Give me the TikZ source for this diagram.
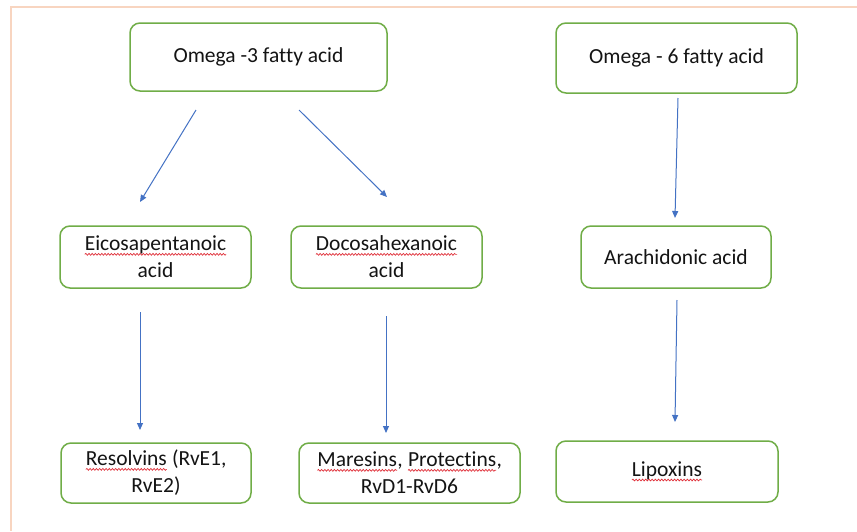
\documentclass[tikz,border=0pt]{standalone}
\usepackage{fontspec}
\setmainfont{Carlito}[Ligatures=NoCommon]
\usetikzlibrary{arrows.meta,decorations.pathmorphing}
\definecolor{boxgreen}{HTML}{70AD47}
\definecolor{arrblue}{HTML}{4472C4}
\definecolor{framecol}{HTML}{F8D5C0}
\definecolor{txtcol}{HTML}{141414}
\definecolor{squig}{HTML}{E0303A}
\newcommand\spellmark[1]{\tikz[baseline=(sw.base)]{\node[shape=rectangle,minimum width=0pt,minimum height=0pt,inner sep=0pt,outer sep=0pt,draw=none,fill=none,rounded corners=0pt,text=txtcol,anchor=center] (sw) at (0,0) {#1};\draw[draw=squig,line width=0.7pt,rounded corners=0pt,decorate,decoration={snake,amplitude=0.9pt,segment length=3.2pt}] ([yshift=-3.5pt]sw.base west) -- ([yshift=-3.5pt]sw.base east);}}
\tikzset{
  box/.style={draw=boxgreen, line width=1.5pt, rounded corners=10pt, fill=white,
    inner sep=0pt, align=center, text=txtcol,
    font=\fontsize{21.5}{27}\selectfont},
  flow/.style={draw=arrblue, line width=1pt, -{Triangle[length=7pt,width=6pt]}},
  framed/.style={draw=framecol, line width=1.5pt}
}
\begin{document}
\begin{tikzpicture}[x=1pt,y=-1pt]
\useasboundingbox (0,0) rectangle (857,531);
\fill[white] (0,0) rectangle (857,531);
% page frame
\coordinate (ftr) at (857,7);
\coordinate (ftl) at (11,7);
\coordinate (fbl) at (11,531);
\draw[framed] (ftr) -- (ftl) -- (fbl);
% boxes
\node[box, minimum width=257pt, minimum height=68pt] (o3) at (258.5,57) {Omega -3 fatty acid};
\node[box, minimum width=241pt, minimum height=70pt] (o6) at (676.5,58) {Omega - 6 fatty acid};
\node[box, minimum width=191pt, minimum height=62pt] (epa) at (155.5,257) {\spellmark{Eicosapentanoic}\\acid};
\node[box, minimum width=191pt, minimum height=62pt] (dha) at (386.5,257) {\spellmark{Docosahexanoic}\\acid};
\node[box, minimum width=190pt, minimum height=62pt] (ara) at (676,257) {Arachidonic acid};
\node[box, minimum width=190pt, minimum height=60pt] (res) at (156,473) {\spellmark{Resolvins} (RvE1,\\RvE2)};
\node[box, minimum width=221pt, minimum height=60pt] (mar) at (409.5,473) {\spellmark{Maresins}, \spellmark{Protectins},\\RvD1-RvD6};
\node[box, minimum width=222pt, minimum height=61pt] (lip) at (667,471.5) {\spellmark{Lipoxins}};
% arrow end points
\coordinate (a1s) at (196,110); \coordinate (a1e) at (140,202);
\coordinate (a2s) at (299,110); \coordinate (a2e) at (387,197);
\coordinate (a3s) at (678,98);  \coordinate (a3e) at (675,218);
\coordinate (a4s) at (140,312); \coordinate (a4e) at (140,430);
\coordinate (a5s) at (386,316); \coordinate (a5e) at (386,433);
\coordinate (a6s) at (677,300); \coordinate (a6e) at (675,422);
\draw[flow] (a1s) -- (a1e);
\draw[flow] (a2s) -- (a2e);
\draw[flow] (a3s) -- (a3e);
\draw[flow] (a4s) -- (a4e);
\draw[flow] (a5s) -- (a5e);
\draw[flow] (a6s) -- (a6e);
\end{tikzpicture}
\end{document}
